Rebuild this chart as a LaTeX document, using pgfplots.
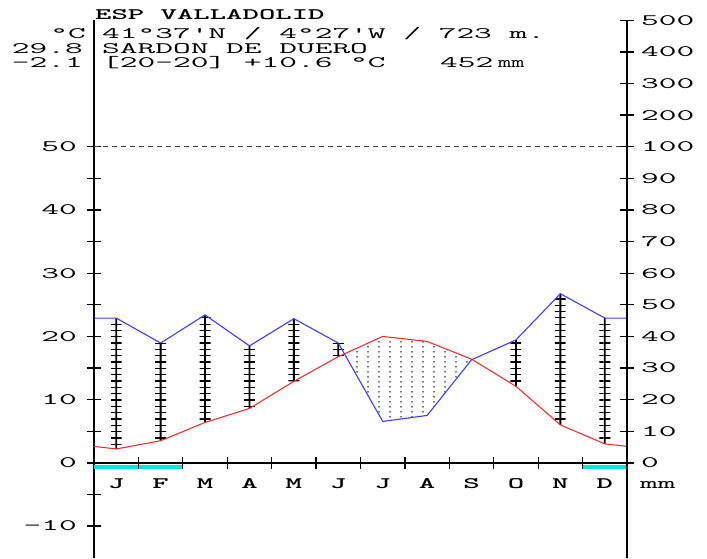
\documentclass[border=0pt]{standalone}
\usepackage{graphicx}
\usepackage{pgfplots}
\pgfplotsset{compat=1.18}
\usepackage{pgfplotstable}
\usetikzlibrary{patterns.meta}

\definecolor{tred}{RGB}{255,30,30}
\definecolor{pblue}{RGB}{60,60,255}
\definecolor{frost}{RGB}{0,230,230}

\newcommand\Tx[1]{\scalebox{2.15}[1]{\fontsize{16}{18}\selectfont\ttfamily #1}}
\newcommand\Bx[1]{\scalebox{1.95}[1]{\fontsize{16}{18}\selectfont\ttfamily\bfseries #1}}

\tikzdeclarepattern{
  name=drydots, type=uncolored,
  bounding box={(0pt,0pt) and (11pt,5pt)},
  tile size={(11pt,5pt)},
  code={\pgfpathrectangle{\pgfpoint{4.6pt}{2pt}}{\pgfpoint{1.8pt}{1pt}}\pgfusepath{fill}}
}

% m = month position, T = mean temperature (C), P = precipitation (mm)
\pgfplotstableread{
m    T     P
0    2.6   45.8
0.5  2.2   45.8
1.5  3.5   37.9
2.5  6.4   46.8
3.5  8.6   37.0
4.5  12.9  45.6
5.5  16.8  37.9
6.5  20.0  13.1
7.5  19.2  15.0
8.5  16.4  32.6
9.5  12.1  38.9
10.5 6.0   53.5
11.5 3.0   45.8
12   2.6   45.8
}\clim

\pgfplotsset{base/.style={width=533pt, height=538pt, scale only axis,
  xmin=0, xmax=12, ymin=-15.05, ymax=70.05, at={(94pt,0pt)}, anchor=south west}}

\begin{document}
\begin{tikzpicture}
\useasboundingbox (0,0) rectangle (707pt,558pt);
% humid period: hatched bars
\begin{axis}[base, hide axis, ybar stacked, bar width=11pt]
\addplot[draw=none, fill=none, restrict x to domain=0.4:11.6] table[x=m,y=T]{\clim};
\addplot[draw=none, pattern={Lines[angle=0,distance=6.32pt,line width=1.3pt]}, pattern color=black, restrict x to domain=0.4:11.6] table[x=m, y expr={max(\thisrow{P}/2-\thisrow{T},0)}]{\clim};
\end{axis}
\begin{axis}[base, hide axis, ybar stacked, bar width=1.9pt]
\addplot[draw=none, fill=none, restrict x to domain=0.4:11.6] table[x=m,y=T]{\clim};
\addplot[draw=none, fill=black, restrict x to domain=0.4:11.6] table[x=m, y expr={max(\thisrow{P}/2-\thisrow{T},0)}]{\clim};
\end{axis}
% main axis (left scale)
\begin{axis}[base,
  axis x line=none, axis y line=left,
  axis line style={-, line width=1.5pt, black},
  ytick={-10,0,10,20,30,40,50},
  yticklabels={\Tx{-10},\Tx{0},\Tx{10},\Tx{20},\Tx{30},\Tx{40},\Tx{50}},
  minor ytick={-5,5,15,25,35,45},
  tick align=center, major tick length=14pt, minor tick length=14pt,
  tick style={black, line width=1.3pt},
  yticklabel style={anchor=east, inner sep=0pt, xshift=-10pt},
]
\addplot[frost, line width=4.5pt, forget plot] coordinates {(0,-0.65)(2,-0.65)};
\addplot[frost, line width=4.5pt, forget plot] coordinates {(11,-0.65)(12,-0.65)};
\addplot[black!75, line width=0.8pt, dash pattern=on 5pt off 4pt] coordinates {(0,50)(12,50)};
% dry period (temperature above precipitation curve)
\addplot[draw=none, pattern=drydots, pattern color=black!80] coordinates {(5.64,17.23)(6.5,20.0)(7.5,19.2)(8.5,16.4)(8.5,16.3)(7.5,7.5)(6.5,6.55)} -- cycle;
\addplot[tred, line width=1pt] table[x=m,y=T]{\clim};
\addplot[pblue, line width=1.1pt] table[x=m,y expr=\thisrow{P}/2]{\clim};
\end{axis}
% x axis at 0 degrees
\begin{axis}[width=533pt, height=20pt, scale only axis, at={(94pt,95.14pt)}, anchor=south west,
  xmin=0, xmax=12, ymin=0, ymax=1,
  axis x line=bottom, axis y line=none,
  axis line style={-, line width=1.5pt, black},
  xtick={0.5,1.5,...,11.5},
  xticklabels={\Bx{J},\Bx{F},\Bx{M},\Bx{A},\Bx{M},\Bx{J},\Bx{J},\Bx{A},\Bx{S},\Bx{O},\Bx{N},\Bx{D}},
  major tick length=0pt,
  minor xtick={1,2,...,11},
  minor tick length=12pt, tick align=center,
  tick style={black, line width=1.3pt},
  xticklabel style={anchor=base, inner sep=0pt, yshift=-26pt},
]
\addplot[draw=none] coordinates {(0,0)};
\end{axis}
% right axis
\begin{axis}[base,
  axis x line=none, axis y line=right,
  axis line style={-, line width=1.5pt, black},
  ytick={0,5,...,70},
  yticklabels={\Tx{0},\Tx{10},\Tx{20},\Tx{30},\Tx{40},\Tx{50},\Tx{60},\Tx{70},\Tx{80},\Tx{90},\Tx{100},\Tx{200},\Tx{300},\Tx{400},\Tx{500}},
  tick align=center, major tick length=14pt,
  tick style={black, line width=1.3pt},
  yticklabel style={anchor=west, inner sep=0pt, xshift=7pt},
]
\addplot[draw=none] coordinates {(0,0)};
\end{axis}
% header texts
\node[anchor=base west, inner sep=0pt] at (95pt,538pt) {\Bx{ESP VALLADOLID}};
\node[anchor=base west, inner sep=0pt] at (102pt,519pt) {\Tx{41°37\textquotesingle N~/~4°27\textquotesingle W~/~723~m.}};
\node[anchor=base west, inner sep=0pt] at (102pt,504.5pt) {\Tx{SARDON~DE~DUERO}};
\node[anchor=base west, inner sep=0pt] at (102pt,490pt) {\Tx{[20-20]~+10.6~°C}};
\node[anchor=base west, inner sep=0pt] at (440pt,490pt) {\Tx{452}};
\node[anchor=base west, inner sep=0pt] at (498pt,490pt) {\scalebox{1.6}[1]{\fontsize{16}{18}\selectfont\ttfamily mm}};
\node[anchor=base east, inner sep=0pt] at (86pt,519pt) {\Tx{°C}};
\node[anchor=base east, inner sep=0pt] at (83pt,504.5pt) {\Tx{29.8}};
\node[anchor=base east, inner sep=0pt] at (83pt,490pt) {\Tx{-2.1}};
\node[anchor=base west, inner sep=0pt] at (640pt,70pt) {\Tx{mm}};
\end{tikzpicture}
\end{document}
